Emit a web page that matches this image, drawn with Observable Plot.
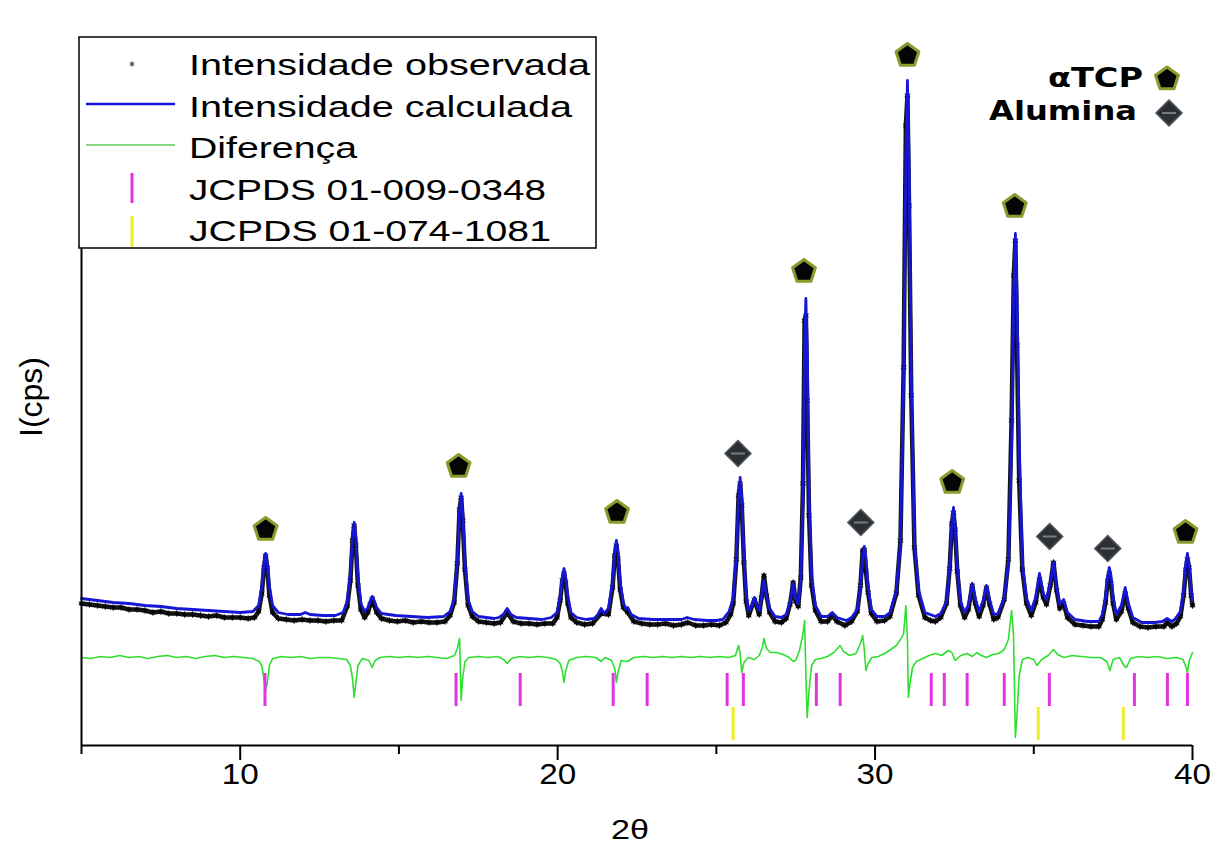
<!DOCTYPE html>
<html><head><meta charset="utf-8">
<script src="https://cdn.jsdelivr.net/npm/d3@7"></script>
<script src="https://cdn.jsdelivr.net/npm/@observablehq/plot@0.6"></script>
<style>html,body{margin:0;padding:0;background:#fff;overflow:hidden}</style>
</head><body><div id="chart"></div>
<script>
// ---- Data (2θ in degrees, intensity in arbitrary cps units) ----
const calc = [
[5.0,147],[5.5,145],[6.0,143],[6.5,142],[7.0,140],[7.5,139],[8.0,137],[8.5,136],[9.0,135],[9.5,134],[10.0,133],
[10.40,134],[10.58,140],[10.68,159],[10.75,183],[10.80,192],[10.85,183],[10.92,159],[11.02,140],[11.20,133],
[11.5,131],[11.9,131],[12.05,133],[12.2,131],[12.6,130],[13.0,130],[13.24,133],
[13.37,144],[13.47,172],[13.54,209],[13.59,223],[13.64,209],[13.71,168],[13.80,142],[13.92,134],
[14.02,138],[14.10,145],[14.16,149],[14.22,145],[14.30,138],[14.45,132],
[14.9,130],[15.4,129],[15.9,128],[16.41,129],
[16.61,134],[16.74,146],[16.84,184],[16.91,233],[16.96,252],[17.01,233],[17.08,184],[17.18,146],[17.31,134],[17.51,129],
[18.0,127],[18.15,128],[18.29,131],[18.41,137],[18.53,131],[18.70,128],
[19.1,127],[19.5,126],[19.80,128],
[19.98,133],[20.08,149],[20.15,169],[20.20,177],[20.25,169],[20.32,149],[20.42,133],[20.60,128],
[20.9,126],[21.15,127],[21.27,131],[21.37,137],[21.47,132],[21.60,137],
[21.73,163],[21.80,194],[21.85,205],[21.90,194],[21.97,163],[22.07,143],[22.14,137],[22.21,138],[22.32,131],[22.55,127],
[23.0,126],[23.5,126],[23.9,126],[24.08,128],[24.3,126],[24.7,125],[25.0,125],[25.2,126],
[25.40,134],[25.53,147],[25.63,190],[25.70,247],[25.75,268],[25.80,247],[25.87,190],[25.94,150],[26.02,135],
[26.10,138],[26.20,148],[26.28,140],[26.35,135],
[26.42,148],[26.50,165],[26.58,150],[26.68,137],[26.85,129],
[27.05,128],[27.20,131],[27.32,143],[27.42,162],[27.50,147],[27.58,142],
[27.66,165],[27.73,250],[27.78,400],[27.82,447],[27.86,400],[27.92,250],[28.00,170],[28.12,140],[28.30,129],
[28.50,129],[28.65,133],[28.80,128],[29.10,125],
[29.26,128],[29.44,136],[29.54,159],[29.61,188],[29.66,199],[29.71,188],[29.78,159],[29.88,136],[30.06,129],[30.30,129],
[30.47,133],[30.67,155],[30.80,203],[30.90,370],[30.97,585],[31.02,665],[31.07,585],[31.14,370],[31.24,203],[31.37,155],[31.57,133],
[31.90,129],[32.07,132],[32.25,144],[32.35,178],[32.42,222],[32.47,238],[32.52,222],[32.59,178],[32.69,144],[32.82,133],
[32.94,140],[33.06,162],[33.16,146],[33.28,134],
[33.40,144],[33.51,160],[33.61,145],[33.74,131],
[33.87,132],[34.07,147],[34.20,182],[34.30,300],[34.37,454],[34.42,512],[34.47,454],[34.54,300],[34.64,182],[34.77,147],[34.92,135],
[35.06,148],[35.18,172],[35.30,152],[35.40,146],
[35.52,162],[35.62,183],[35.72,158],[35.82,141],[35.94,146],[36.06,133],[36.30,126],
[36.70,124],[37.05,124],
[37.16,131],[37.26,148],[37.33,170],[37.38,178],[37.43,170],[37.50,148],[37.60,131],
[37.76,140],[37.88,158],[37.98,142],[38.12,128],[38.40,123],
[38.80,123],[39.05,124],[39.20,127],[39.35,124],
[39.44,126],[39.62,134],[39.72,155],[39.79,182],[39.84,192],[39.89,182],[39.96,155],[40.0,145]
];

const obs = [
[5.0,142],[5.25,141],[5.5,140],[5.75,139],[6.0,138],[6.25,138],[6.5,136],[6.75,136],[7.0,135],[7.25,133],[7.5,134],[7.75,132],
[8.0,132],[8.25,131],[8.5,131],[8.75,130],[9.0,129],[9.25,130],[9.5,128],[9.75,128],[10.0,128],[10.25,127],
[10.45,128],[10.58,134],[10.68,152],[10.75,178],[10.80,190],[10.85,178],[10.92,150],[11.02,133],[11.2,127],
[11.45,126],[11.7,125],[11.95,126],[12.2,125],[12.45,125],[12.7,124],[12.95,125],[13.2,125],
[13.37,139],[13.47,165],[13.54,205],[13.59,220],[13.64,200],[13.71,160],[13.80,136],[13.92,128],[14.02,133],[14.10,141],[14.16,147],[14.22,140],[14.30,133],[14.45,127],
[14.7,125],[14.95,124],[15.2,125],[15.45,123],[15.7,124],[15.95,123],[16.2,123],[16.45,124],
[16.61,130],[16.74,143],[16.84,182],[16.91,236],[16.96,248],[17.01,225],[17.08,176],[17.18,140],[17.31,129],[17.51,124],
[17.75,123],[18.0,122],[18.2,123],[18.41,133],[18.6,124],[18.85,122],[19.1,122],[19.35,121],[19.6,122],[19.85,122],
[19.98,128],[20.08,145],[20.15,165],[20.20,172],[20.25,163],[20.32,142],[20.42,128],[20.6,123],
[20.85,121],[21.1,122],[21.37,132],[21.6,131],[21.73,158],[21.80,190],[21.85,200],[21.90,187],[21.97,156],[22.07,138],[22.21,133],[22.4,124],
[22.65,122],[22.9,121],[23.15,121],[23.4,122],[23.65,120],[23.9,121],[24.1,123],[24.35,120],[24.6,120],[24.85,121],[25.1,120],[25.3,123],
[25.45,131],[25.53,142],[25.63,186],[25.70,250],[25.75,262],[25.80,240],[25.87,183],[25.94,144],[26.02,130],[26.20,146],[26.35,131],[26.42,148],[26.50,170],[26.58,150],[26.68,133],[26.85,124],
[27.05,123],[27.2,127],[27.32,141],[27.42,163],[27.50,144],[27.58,139],[27.66,168],[27.73,262],[27.78,425],[27.82,430],[27.86,345],[27.92,230],[28.0,160],[28.12,135],[28.3,124],
[28.5,124],[28.65,130],[28.8,124],[29.05,120],[29.26,124],
[29.44,134],[29.54,160],[29.61,195],[29.66,196],[29.71,175],[29.78,153],[29.88,132],[30.06,124],[30.3,125],
[30.47,129],[30.67,152],[30.80,205],[30.90,378],[30.97,620],[31.02,650],[31.07,540],[31.14,350],[31.24,198],[31.37,150],[31.57,128],
[31.75,125],[31.90,124],[32.07,128],[32.25,142],[32.35,177],[32.42,222],[32.47,233],[32.52,216],[32.59,174],[32.69,140],[32.82,128],
[32.94,136],[33.06,160],[33.16,142],[33.28,129],[33.40,140],[33.51,158],[33.61,141],[33.74,126],
[33.87,128],[34.07,146],[34.20,186],[34.30,325],[34.37,470],[34.42,505],[34.47,400],[34.54,265],[34.64,176],[34.77,142],[34.92,130],
[35.06,143],[35.18,166],[35.30,148],[35.40,141],[35.52,160],[35.62,183],[35.72,155],[35.82,137],[35.94,142],[36.06,128],[36.3,121],
[36.55,120],[36.8,119],[37.05,119],[37.16,126],[37.26,143],[37.33,165],[37.38,172],[37.43,162],[37.50,142],[37.60,126],
[37.76,134],[37.88,152],[37.98,137],[38.12,123],[38.35,119],[38.6,118],[38.85,119],[39.1,119],[39.2,123],[39.35,119],
[39.5,122],[39.62,129],[39.72,150],[39.79,176],[39.84,186],[39.89,178],[39.96,150],[40.0,140]
];

const diff = [
[5.0,88],[5.3,87],[5.6,89],[5.9,88],[6.2,90],[6.5,88],[6.8,89],[7.1,87],[7.4,89],[7.7,90],[8.0,88],[8.3,89],[8.6,87],[8.9,89],[9.2,90],[9.5,88],[9.8,89],[10.1,88],[10.4,87],[10.6,84],
[10.68,80],[10.75,66],[10.80,55],[10.85,62],[10.92,80],[11.02,87],[11.3,89],[11.6,88],[11.9,89],[12.2,87],[12.5,88],[12.8,88],[13.1,87],[13.35,86],
[13.47,80],[13.54,66],[13.59,48],[13.64,62],[13.71,80],[13.85,87],[14.05,85],[14.16,78],[14.25,85],[14.4,88],[14.7,89],[15.0,88],[15.3,89],[15.6,88],[15.9,89],[16.2,88],[16.5,87],[16.75,90],
[16.84,97],[16.91,107],[16.96,45],[17.01,68],[17.08,84],[17.2,88],[17.5,89],[17.8,88],[18.1,89],[18.3,86],[18.41,82],[18.55,87],[18.8,89],[19.1,88],[19.4,89],[19.7,88],[19.95,86],
[20.08,82],[20.15,74],[20.20,63],[20.25,74],[20.35,85],[20.6,88],[20.9,89],[21.2,88],[21.37,84],[21.5,88],[21.7,85],
[21.80,77],[21.85,63],[21.90,73],[22.0,85],[22.2,84],[22.4,88],[22.7,89],[23.0,88],[23.3,89],[23.6,88],[23.9,89],[24.2,88],[24.5,89],[24.8,88],[25.1,89],[25.4,88],[25.6,90],
[25.70,100],[25.75,92],[25.80,73],[25.87,83],[26.0,88],[26.2,86],[26.35,90],[26.45,98],[26.50,107],[26.58,97],[26.7,93],[26.9,93],[27.1,91],[27.3,88],[27.42,84],[27.5,85],[27.62,95],
[27.73,112],[27.78,125],[27.82,70],[27.86,28],[27.92,55],[28.00,80],[28.12,86],[28.3,87],[28.5,89],[28.7,93],[28.9,100],[29.0,94],[29.2,90],[29.4,92],
[29.54,102],[29.61,110],[29.66,96],[29.71,75],[29.78,82],[29.9,88],[30.1,89],[30.3,92],[30.5,96],[30.67,100],[30.80,106],[30.90,112],
[30.97,140],[31.02,105],[31.05,48],[31.10,62],[31.18,78],[31.3,84],[31.5,87],[31.7,90],[31.9,92],[32.1,90],[32.3,95],[32.42,93],[32.52,85],[32.7,90],[32.9,92],[33.06,89],[33.2,93],[33.35,90],[33.51,88],[33.7,91],[33.9,92],
[34.07,96],[34.20,106],[34.30,135],[34.36,112],[34.42,8],[34.47,30],[34.54,70],[34.64,86],[34.8,88],[35.0,86],[35.1,80],[35.25,86],[35.45,90],[35.62,96],[35.75,91],[35.95,88],[36.2,90],[36.5,89],[36.8,88],[37.1,88],[37.3,84],
[37.40,75],[37.5,86],[37.7,88],[37.84,80],[37.92,78],[38.05,87],[38.3,89],[38.6,88],[38.9,89],[39.2,87],[39.5,88],[39.7,86],[39.80,78],[39.84,73],[39.9,85],[40.0,93]
];

// Reference reflections (2θ)
const jcpds0348 = [10.78,16.80,18.82,21.75,22.82,25.34,25.85,28.15,28.90,31.77,32.18,32.90,34.07,35.49,38.17,39.21,39.84];
const jcpds1081 = [25.53,35.14,37.82];

// Phase markers: [2θ, marker height]
const aTCPpeaks = [[10.80,216],[16.88,279],[21.87,233],[27.76,474],[31.02,690],[34.40,539],[32.43,263],[39.78,213]];
const aluminaPeaks = [[25.68,292],[29.55,223],[35.50,209],[37.33,197]];

const xTicks = [10,20,30,40];
const xMinorTicks = [5,15,25,35];

const legendLabels = ["Intensidade observada","Intensidade calculada","Diferença","JCPDS 01-009-0348","JCPDS 01-074-1081"];
const phaseLabels = ["αTCP","Alumina"];

// ---- Symbols ----
const pentagon = {draw(ctx, size){const R=Math.sqrt(size/Math.PI);for(let k=0;k<5;k++){const a=-Math.PI/2+k*2*Math.PI/5;const px=R*Math.cos(a),py=R*Math.sin(a);if(k)ctx.lineTo(px,py);else ctx.moveTo(px,py);}ctx.closePath();}};
const diamond = {draw(ctx, size){const R=Math.sqrt(size/Math.PI);ctx.moveTo(0,-R);ctx.lineTo(R,0);ctx.lineTo(0,R);ctx.lineTo(-R,0);ctx.closePath();}};
const hbar = {draw(ctx, size){const R=Math.sqrt(size/Math.PI);ctx.moveTo(-R,0);ctx.lineTo(R,0);}};

const BLUE="#1616d6", GREEN="#2fdf2f", MAGENTA="#e235e2", YELLOW="#eded2a", OLIVE="#8c9a2c";
const SANS = "'Liberation Sans', Arial, sans-serif";

const plot = Plot.plot({
  width: 1216, height: 849,
  marginLeft: 81, marginRight: 24, marginTop: 38, marginBottom: 104,
  style: {fontFamily: SANS, fontSize: "28px", background: "white", color: "black"},
  x: {domain: [5, 40], axis: null},
  y: {domain: [0, 707], axis: null},
  marks: [
    Plot.line(diff, {x: d => d[0], y: d => d[1], stroke: GREEN, strokeWidth: 1.6}),
    Plot.ruleX(jcpds0348, {x: d => d, y1: 39, y2: 72, stroke: MAGENTA, strokeWidth: 3}),
    Plot.ruleX(jcpds1081, {x: d => d, y1: 5, y2: 38, stroke: YELLOW, strokeWidth: 3}),
    Plot.line(obs, {x: d => d[0], y: d => d[1], stroke: "#151515", strokeWidth: 4.5}),
    Plot.dot(obs, {x: d => d[0], y: d => d[1], symbol: "asterisk", r: 3, stroke: "#000", strokeWidth: 1}),
    Plot.line(calc, {x: d => d[0], y: d => d[1], stroke: BLUE, strokeWidth: 2.8}),
    Plot.dot(aTCPpeaks, {x: d => d[0], y: d => d[1], symbol: pentagon, r: 12, fill: "#050505", stroke: OLIVE, strokeWidth: 3, strokeLinejoin: "round"}),
    Plot.dot(aluminaPeaks, {x: d => d[0], y: d => d[1], symbol: diamond, r: 13, fill: "#2c3035", stroke: "#50555b", strokeWidth: 1.5}),
    Plot.dot(aluminaPeaks, {x: d => d[0], y: d => d[1], symbol: hbar, r: 7, stroke: "#777c82", strokeWidth: 2}),
    Plot.ruleY([0], {stroke: "black", strokeWidth: 2}),
    Plot.ruleX([5], {stroke: "black", strokeWidth: 2}),
    Plot.axisX({ticks: xMinorTicks, tickSize: 9, tickFormat: () => "", strokeWidth: 2, label: null}),
    Plot.axisX({ticks: xTicks, tickSize: 15, tickPadding: 3, tickFormat: d => String(d), strokeWidth: 2, fontSize: 29, label: null})
  ]
});
document.getElementById("chart").appendChild(plot);

const svg = d3.select(plot);
// tick labels: match reference size and (slightly wide) proportions
const tickStrings = xTicks.map(String);
svg.selectAll("text").filter(function(){ return tickStrings.includes(this.textContent); })
  .style("font-size", "29px").attr("textLength", 37).attr("lengthAdjust", "spacingAndGlyphs");

// ---- Legend box, phase key and axis titles ----
const g = svg.append("g").attr("font-family", SANS).attr("text-anchor", "start");
g.append("rect").attr("x", 79).attr("y", 37).attr("width", 517).attr("height", 211)
  .attr("fill", "white").attr("stroke", "black").attr("stroke-width", 1.5);
const baselines = [75, 116.5, 158, 199.5, 241];
const lengths = [401, 383, 168, 357, 362];
legendLabels.forEach((t, i) => {
  g.append("text").attr("x", 189).attr("y", baselines[i]).attr("font-size", 29).attr("text-anchor", "start")
    .attr("textLength", lengths[i]).attr("lengthAdjust", "spacingAndGlyphs").text(t);
});
g.append("path").attr("transform", "translate(132,64)")
  .attr("d", d3.symbol().type(d3.symbolAsterisk).size(20)()).attr("stroke", "#333").attr("stroke-width", 1).attr("fill", "none");
g.append("line").attr("x1", 86).attr("x2", 175).attr("y1", 104).attr("y2", 104).attr("stroke", BLUE).attr("stroke-width", 2.4);
g.append("line").attr("x1", 86).attr("x2", 175).attr("y1", 145).attr("y2", 145).attr("stroke", "#86d886").attr("stroke-width", 2);
g.append("line").attr("x1", 132).attr("x2", 132).attr("y1", 173).attr("y2", 203).attr("stroke", MAGENTA).attr("stroke-width", 3);
g.append("line").attr("x1", 132).attr("x2", 132).attr("y1", 216).attr("y2", 247).attr("stroke", YELLOW).attr("stroke-width", 3);

const k = svg.append("g").attr("font-family", "'DejaVu Sans', Verdana, sans-serif").attr("font-weight", "bold");
k.append("text").attr("x", 1143).attr("y", 87).attr("text-anchor", "end").attr("font-size", 26)
  .attr("textLength", 95).attr("lengthAdjust", "spacingAndGlyphs").text(phaseLabels[0]);
k.append("text").attr("x", 1137).attr("y", 120).attr("text-anchor", "end").attr("font-size", 26)
  .attr("textLength", 148).attr("lengthAdjust", "spacingAndGlyphs").text(phaseLabels[1]);
k.append("path").attr("transform", "translate(1167,79)")
  .attr("d", d3.symbol().type(pentagon).size(Math.PI * 144)())
  .attr("fill", "#050505").attr("stroke", OLIVE).attr("stroke-width", 3).attr("stroke-linejoin", "round");
k.append("path").attr("transform", "translate(1169,113)")
  .attr("d", d3.symbol().type(diamond).size(Math.PI * 169)())
  .attr("fill", "#2c3035").attr("stroke", "#50555b").attr("stroke-width", 1.5);
k.append("path").attr("transform", "translate(1169,113)")
  .attr("d", d3.symbol().type(hbar).size(Math.PI * 49)())
  .attr("stroke", "#777c82").attr("stroke-width", 2);

svg.append("text").attr("transform", "translate(42,397) rotate(-90)").attr("text-anchor", "middle")
  .attr("font-family", SANS).attr("font-size", 32).text("I(cps)");
svg.append("text").attr("x", 630).attr("y", 839).attr("text-anchor", "middle")
  .attr("font-family", SANS).attr("font-size", 28).attr("textLength", 38).attr("lengthAdjust", "spacingAndGlyphs").text("2θ");
</script>
</body></html>
